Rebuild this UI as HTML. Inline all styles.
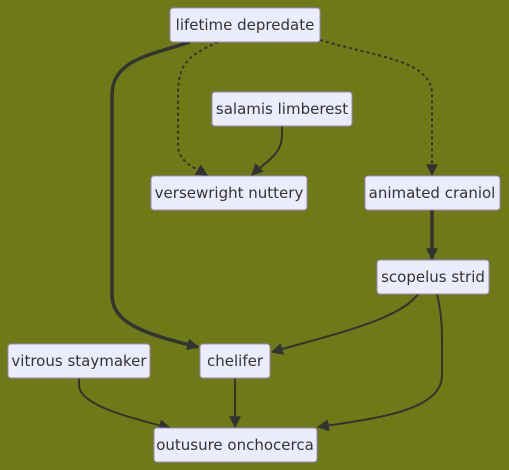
<!DOCTYPE html>
<html><head><meta charset="utf-8"><style>
html,body{margin:0;padding:0;background:#6e7a16;}
svg{display:block;}
text{font-family:"DejaVu Sans","Liberation Sans",sans-serif;font-size:15px;fill:#333;}
.n rect{fill:#ececff;stroke:#9b86c9;stroke-width:1;}
.e{fill:none;stroke:#333;stroke-width:2;}
</style></head><body>
<svg width="509" height="470" viewBox="0 0 509 470">
<defs>
<marker id="ah" viewBox="0 0 10 10" refX="9" refY="5" markerWidth="6" markerHeight="6" markerUnits="userSpaceOnUse" orient="auto"><path d="M0,0L10,5L0,10z" fill="#333"/></marker>
<marker id="ah2" viewBox="0 0 10 10" refX="9" refY="5" markerWidth="12" markerHeight="12" markerUnits="userSpaceOnUse" orient="auto"><path d="M0,0L10,5L0,10z" fill="#333"/></marker>
</defs>
<g>
<path class="e" style="stroke-width:3.5" d="M190,42 C150,55 112,60 112,95 L112,295 C112,325 150,335 198,347" marker-end="url(#ah2)"/>
<path class="e" style="stroke-dasharray:3,3" d="M218,42 C190,55 178,62 178,95 L178,145 C178,162 195,168 207,175" marker-end="url(#ah2)"/>
<path class="e" d="M282,126 L282,135 C282,155 265,162 252,175" marker-end="url(#ah2)"/>
<path class="e" style="stroke-dasharray:3,3" d="M320,40 C380,58 432,60 432,95 L432,175" marker-end="url(#ah2)"/>
<path class="e" style="stroke-width:3.5" d="M432,210 L432,259" marker-end="url(#ah2)"/>
<path class="e" d="M418,294 C400,320 330,335 272,352" marker-end="url(#ah2)"/>
<path class="e" d="M437,294 C442,315 442,330 442,345 L442,375 C442,410 380,418 318,427" marker-end="url(#ah2)"/>
<path class="e" d="M79,378 L79,385 C79,405 130,418 170,428" marker-end="url(#ah2)"/>
<path class="e" d="M235,378 L235,427" marker-end="url(#ah2)"/>
</g>
<g class="n"><rect x="170" y="8" width="150" height="34" rx="3"/><text x="245" y="30" text-anchor="middle">lifetime depredate</text></g>
<g class="n"><rect x="212" y="92" width="140" height="34" rx="3"/><text x="282" y="114" text-anchor="middle">salamis limberest</text></g>
<g class="n"><rect x="151" y="176" width="156" height="34" rx="3"/><text x="229" y="198" text-anchor="middle">versewright nuttery</text></g>
<g class="n"><rect x="365" y="176" width="135" height="34" rx="3"/><text x="432" y="198" text-anchor="middle">animated craniol</text></g>
<g class="n"><rect x="377" y="260" width="112" height="34" rx="3"/><text x="433" y="282" text-anchor="middle">scopelus strid</text></g>
<g class="n"><rect x="8" y="344" width="142" height="34" rx="3"/><text x="79" y="366" text-anchor="middle">vitrous staymaker</text></g>
<g class="n"><rect x="200" y="344" width="70" height="34" rx="3"/><text x="235" y="366" text-anchor="middle">chelifer</text></g>
<g class="n"><rect x="154" y="428" width="163" height="34" rx="3"/><text x="235" y="450" text-anchor="middle">outusure onchocerca</text></g>
</svg>
</body></html>
